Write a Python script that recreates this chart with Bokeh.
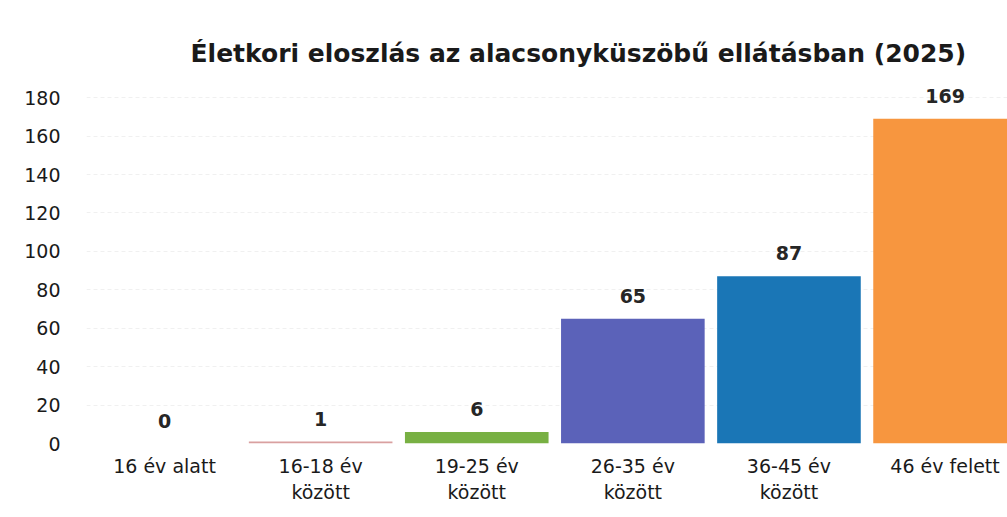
from bokeh.plotting import figure
from bokeh.models import Range1d, FixedTicker, ColumnDataSource
from bokeh.embed import file_html
from bokeh.resources import INLINE
from bokeh.core.properties import value

categories = ["16 év alatt", "16-18 év\nközött", "19-25 év\nközött", "26-35 év\nközött", "36-45 év\nközött", "46 év felett"]
counts = [0, 1, 6, 65, 87, 169]
colors = ["#d9a0a0", "#d9a0a0", "#78b043", "#5b62b9", "#1a76b6", "#f7963f"]
y_ticks = [0, 20, 40, 60, 80, 100, 120, 140, 160, 180]
title_text = "Életkori eloszlás az alacsonyküszöbű ellátásban (2025)"

FONT = "DejaVu Sans"

xs = list(range(len(categories)))
src = ColumnDataSource(dict(x=xs, y=counts, c=colors, lab=[str(v) for v in counts]))

p = figure(width=1007, height=517, output_backend="svg", toolbar_location=None,
           x_range=Range1d(-0.5, 5.40), y_range=Range1d(0, 190),
           min_border_left=86, min_border_right=0, min_border_bottom=74, min_border_top=78)
p.title.text = title_text
p.title.align = "left"
p.title.offset = 104
p.title.text_font = FONT
p.title.text_font_size = "25px"
p.title.text_font_style = "bold"
p.title.text_color = "#1a1a1a"
p.title.standoff = 21

p.vbar(x="x", top="y", width=0.92, fill_color="c", line_color=None, source=src)
p.text(x="x", y="y", text="lab", source=src, text_align="center", text_baseline="alphabetic",
       y_offset=-23, text_font=value(FONT), text_font_size="19px",
       text_font_style="bold", text_color="#262626")

p.xaxis.ticker = FixedTicker(ticks=xs)
p.xaxis.major_label_overrides = {i: c for i, c in enumerate(categories)}
p.yaxis.ticker = FixedTicker(ticks=y_ticks)
for ax in (p.xaxis, p.yaxis):
    ax.axis_line_color = None
    ax.major_tick_line_color = None
    ax.minor_tick_line_color = None
    ax.major_label_text_font = FONT
    ax.major_label_text_font_size = "19px"
    ax.major_label_text_color = "#1a1a1a"
p.yaxis.major_label_standoff = 20
p.xaxis.major_label_standoff = 5

p.xgrid.grid_line_color = None
p.ygrid.grid_line_color = "#f0f0f0"
p.ygrid.grid_line_dash = "4 3"
p.outline_line_color = None

open("out.html", "w").write(file_html(p, INLINE))
